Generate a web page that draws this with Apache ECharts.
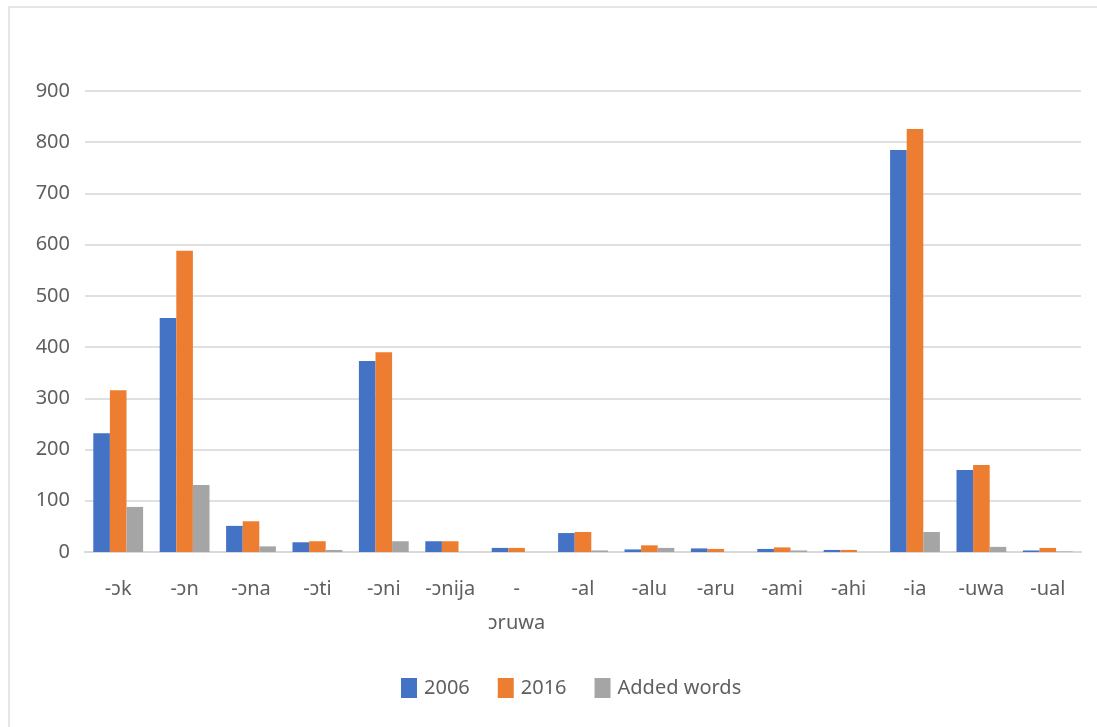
<!DOCTYPE html>
<html>
<head>
<meta charset="utf-8">
<script src="https://cdn.jsdelivr.net/npm/echarts@6/dist/echarts.min.js"></script>
<style>
  html, body { margin: 0; padding: 0; background: #fff; }
  #frame { position: absolute; left: 8px; top: 6px; width: 1089px; height: 721px;
           border-left: 2px solid #e6e6e6; border-top: 2px solid #e6e6e6; box-sizing: border-box; }
  #chart { position: absolute; left: 0; top: 0; width: 1097px; height: 727px; }
</style>
</head>
<body>
<div id="frame"></div>
<div id="chart"></div>
<script>
const categories = ['-ɔk', '-ɔn', '-ɔna', '-ɔti', '-ɔni', '-ɔnija', '-ɔruwa', '-al', '-alu', '-aru', '-ami', '-ahi', '-ia', '-uwa', '-ual'];
const values2006 = [232, 457, 51, 19, 373, 21, 8, 37, 5, 7, 6, 4, 785, 160, 3];
const values2016 = [316, 588, 60, 21, 390, 21, 8, 39, 13, 6, 9, 4, 826, 170, 8];
const addedWords = [88, 131, 11, 4, 21, 0, 0, 3, 8, 0, 3, 0, 39, 10, 1];
const yTicks = { min: 0, max: 900, interval: 100 };

const textColor = '#5f5f5f';
const font = 'Noto Sans';

const chart = echarts.init(document.getElementById('chart'));

const option = {
  animation: false,
  color: ['#4472C4', '#ED7D31', '#A5A5A5'],
  textStyle: { fontFamily: font },
  grid: { left: 85, right: 16, top: 91, bottom: 175 },
  legend: {
    left: 396,
    top: 673,
    itemWidth: 16,
    itemHeight: 20,
    itemGap: 28,
    icon: 'rect',
    textStyle: { color: textColor, fontSize: 20, fontFamily: font, padding: [0, 0, 0, 2] },
    data: ['2006', '2016', 'Added words']
  },
  xAxis: {
    type: 'category',
    data: categories,
    axisLine: { lineStyle: { color: '#d9d9d9', width: 2 } },
    axisTick: { show: false },
    axisLabel: {
      color: textColor,
      fontSize: 20,
      margin: 20,
      lineHeight: 34,
      interval: 0,
      formatter: v => v === '-ɔruwa' ? '-\nɔruwa' : v
    }
  },
  yAxis: {
    type: 'value',
    min: yTicks.min,
    max: yTicks.max,
    interval: yTicks.interval,
    axisLine: { show: false },
    axisTick: { show: false },
    axisLabel: { color: textColor, fontSize: 20, margin: 15 },
    splitLine: { lineStyle: { color: '#e0e0e0', width: 2 } }
  },
  series: [
    { name: '2006', type: 'bar', data: values2006, barGap: '0%', barCategoryGap: '25%' },
    { name: '2016', type: 'bar', data: values2016, barGap: '0%', barCategoryGap: '25%' },
    { name: 'Added words', type: 'bar', data: addedWords, barGap: '0%', barCategoryGap: '25%' }
  ]
};

chart.setOption(option);
</script>
</body>
</html>
